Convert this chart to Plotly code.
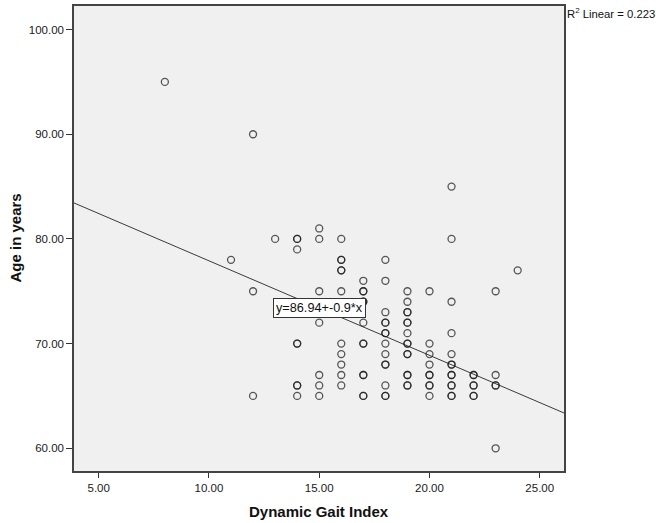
import plotly.graph_objects as go

# Dynamic Gait Index (x) and Age in years (y) (duplicates = darker markers)
dgi = (
    [8]
    + [11]
    + [12, 12, 12]
    + [13]
    + [14] * 8
    + [15] * 7
    + [16] * 11
    + [17] * 12
    + [18] * 14
    + [19] * 15
    + [20] * 9
    + [21] * 13
    + [22] * 6
    + [23] * 5
    + [24]
)
age = (
    [95]
    + [78]
    + [90, 75, 65]
    + [80]
    + [80, 80, 79, 70, 70, 66, 66, 65]
    + [81, 80, 75, 72, 67, 66, 65]
    + [80, 78, 78, 77, 77, 75, 70, 69, 68, 67, 66]
    + [76, 75, 75, 74, 74, 72, 70, 70, 67, 67, 65, 65]
    + [78, 76, 73, 72, 72, 71, 71, 70, 69, 68, 68, 66, 65, 65]
    + [75, 74, 73, 73, 72, 72, 71, 70, 70, 69, 69, 67, 67, 66, 66]
    + [75, 70, 69, 68, 67, 67, 66, 66, 65]
    + [85, 80, 74, 71, 69, 68, 68, 67, 67, 66, 66, 65, 65]
    + [67, 67, 66, 66, 65, 65]
    + [75, 67, 66, 66, 60]
    + [77]
)

# Linear fit shown on chart
fit_intercept = 86.94
fit_slope = -0.903
fit_label = "y=86.94+-0.9*x"
r2_label = "R<sup>2</sup> Linear = 0.223"

x_range = [3.88, 26.1]
y_range = [57.83, 102.25]
x_ticks = [5, 10, 15, 20, 25]
y_ticks = [60, 70, 80, 90, 100]

FONT = "Liberation Sans, Arial, sans-serif"

fig = go.Figure()
fig.add_trace(go.Scatter(
    x=x_range,
    y=[fit_intercept + fit_slope * v for v in x_range],
    mode="lines",
    line=dict(color="#3a3a3a", width=1),
    hoverinfo="skip",
    showlegend=False,
))
fig.add_trace(go.Scatter(
    x=dgi, y=age, mode="markers",
    marker=dict(symbol="circle-open", size=7, color="rgba(25,25,25,0.72)",
                line=dict(width=1.3)),
    showlegend=False,
))

fig.update_layout(
    width=656, height=523,
    margin=dict(l=74, r=92, t=6, b=52, autoexpand=False),
    paper_bgcolor="white",
    plot_bgcolor="#f0f0f0",
    font=dict(family=FONT, size=11, color="#222"),
    xaxis=dict(range=x_range, tickvals=x_ticks, ticktext=[f"{v:.2f}" for v in x_ticks],
               showgrid=False, zeroline=False, showline=True, mirror=True,
               linecolor="#444", linewidth=1.5, ticks="outside", ticklen=5,
               tickcolor="#333", tickwidth=1.2, automargin=False,
               tickfont=dict(family=FONT, size=11.5, color="#1a1a1a")),
    yaxis=dict(range=y_range, tickvals=y_ticks, ticktext=[f"{v:.2f}" for v in y_ticks],
               showgrid=False, zeroline=False, showline=True, mirror=True,
               linecolor="#444", linewidth=1.5, ticks="outside", ticklen=6,
               tickcolor="#333", tickwidth=1.2, automargin=False,
               tickfont=dict(family=FONT, size=11.5, color="#1a1a1a")),
    annotations=[
        dict(text="Dynamic Gait Index", xref="paper", yref="paper", x=0.5, y=-0.0875,
             xanchor="center", yanchor="middle", showarrow=False,
             font=dict(family=FONT, size=15, color="#111", weight="bold")),
        dict(text="Age in years", xref="paper", yref="paper", x=-0.1204, y=0.5,
             xanchor="center", yanchor="middle", textangle=-90, showarrow=False,
             font=dict(family=FONT, size=15, color="#111", weight="bold")),
        dict(text=r2_label, xref="paper", yref="paper", x=1.002, y=0.985,
             xanchor="left", yanchor="middle", showarrow=False,
             font=dict(family=FONT, size=11.3, color="#111")),
        dict(text=fit_label, xref="x", yref="y", x=15.0, y=73.43,
             xanchor="center", yanchor="middle", showarrow=False,
             bgcolor="white", bordercolor="#333", borderwidth=1, borderpad=2,
             font=dict(family=FONT, size=12.7, color="#111")),
    ],
)

fig.write_html("out.html",
               config={"displayModeBar": False},
               post_script="document.body.style.margin='0';document.body.style.overflow='hidden';")
